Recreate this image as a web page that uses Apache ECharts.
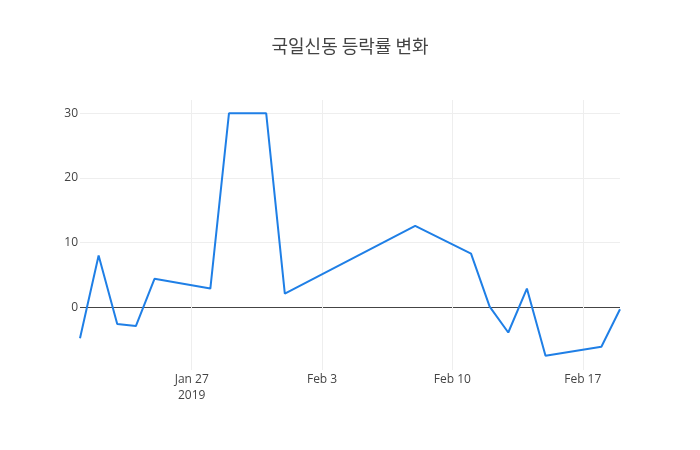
<!DOCTYPE html>
<html>
<head>
<meta charset="utf-8">
<script src="https://cdn.jsdelivr.net/npm/echarts@6/dist/echarts.min.js"></script>
<style>
html, body { margin: 0; padding: 0; background: #fff; }
#chart { width: 700px; height: 450px; }
</style>
</head>
<body>
<div id="chart"></div>
<script>
// 차트 데이터
var titleText = '국일신동 등락률 변화';
var dates = ['2019-01-21', '2019-01-22', '2019-01-23', '2019-01-24', '2019-01-25',
             '2019-01-28', '2019-01-29', '2019-01-30', '2019-01-31', '2019-02-01',
             '2019-02-08', '2019-02-11', '2019-02-12', '2019-02-13', '2019-02-14',
             '2019-02-15', '2019-02-18', '2019-02-19'];
var rates = [-4.8, 8.0, -2.6, -2.9, 4.4,
             2.9, 30.0, 30.0, 30.0, 2.1,
             12.6, 8.3, 0.1, -3.9, 2.9,
             -7.5, -6.1, -0.3];
var xTickDates = ['2019-01-27', '2019-02-03', '2019-02-10', '2019-02-17'];
var xRange = ['2019-01-21', '2019-02-19'];
var yTicks = [0, 10, 20, 30];
var yRange = [-9.7, 32.06];
var monthNames = ['Jan', 'Feb', 'Mar', 'Apr', 'May', 'Jun', 'Jul', 'Aug', 'Sep', 'Oct', 'Nov', 'Dec'];

// 날짜 -> 2019-01-01 기준 일수
var DAY = 86400000;
var BASE = Date.UTC(2019, 0, 1);
function toDay(s) {
	var p = s.split('-');
	return Math.round((Date.UTC(+p[0], +p[1] - 1, +p[2]) - BASE) / DAY);
}
function dayLabel(n) {
	var d = new Date(BASE + n * DAY);
	return monthNames[d.getUTCMonth()] + ' ' + d.getUTCDate();
}

var xTickDays = xTickDates.map(toDay);
var seriesData = dates.map(function (d, i) { return [toDay(d), rates[i]]; });

var myChart = echarts.init(document.getElementById('chart'));
var option = {
	backgroundColor: '#fff',
	animation: false,
	title: {
		text: titleText,
		left: 'center',
		top: 32,
		textStyle: {
			fontFamily: 'Noto Sans CJK KR',
			fontSize: 18,
			fontWeight: 'normal',
			color: '#444'
		}
	},
	grid: {
		left: 80,
		right: 80,
		top: 100,
		bottom: 80
	},
	xAxis: {
		type: 'value',
		min: toDay(xRange[0]),
		max: toDay(xRange[1]),
		axisLine: { show: false },
		axisTick: { show: false, customValues: xTickDays },
		axisLabel: {
			customValues: xTickDays,
			margin: 2,
			lineHeight: 16,
			fontFamily: 'Open Sans',
			fontSize: 12,
			color: '#444',
			formatter: function (v) {
				var s = dayLabel(v);
				if (v === xTickDays[0]) {
					s += '\n' + xTickDates[0].slice(0, 4);
				}
				return s;
			}
		},
		splitLine: {
			show: true,
			lineStyle: { color: '#eee', width: 1 }
		}
	},
	yAxis: {
		type: 'value',
		min: yRange[0],
		max: yRange[1],
		axisLine: { show: false },
		axisTick: { show: false, customValues: yTicks },
		axisLabel: {
			customValues: yTicks,
			margin: 2,
			fontFamily: 'Open Sans',
			fontSize: 12,
			color: '#444'
		},
		splitLine: {
			show: true,
			lineStyle: { color: ['#444', '#eee', '#eee', '#eee'], width: 1 }
		}
	},
	series: [
		{
			name: titleText,
			type: 'line',
			data: seriesData,
			showSymbol: false,
			symbol: 'none',
			lineStyle: { color: '#1f7fe6', width: 2 },
			z: 3
		}
	]
};
myChart.setOption(option);
</script>
</body>
</html>
